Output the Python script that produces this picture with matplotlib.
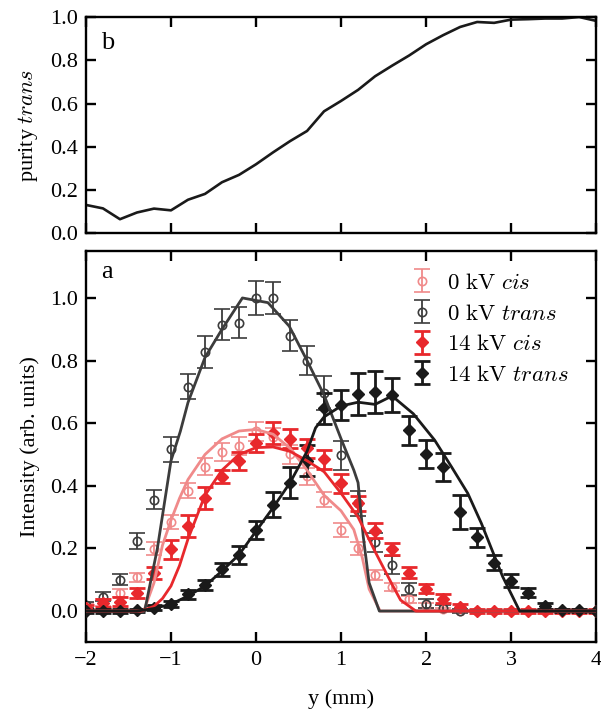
import numpy as np
import matplotlib
matplotlib.use("Agg")
import matplotlib.pyplot as plt

plt.rcParams["font.family"] = ["Liberation Serif", "DejaVu Serif"]
plt.rcParams["mathtext.fontset"] = "cm"

# ---- panel b: purity of trans ----
purity_y = [-2.0, -1.8, -1.6, -1.4, -1.2, -1.0, -0.8, -0.6, -0.4, -0.2,
            0.0, 0.2, 0.4, 0.6, 0.8, 1.0, 1.2, 1.4, 1.6, 1.8,
            2.0, 2.2, 2.4, 2.6, 2.8, 3.0, 3.2, 3.4, 3.6, 3.8, 4.0]
purity_trans = [0.131, 0.115, 0.065, 0.096, 0.114, 0.106, 0.155, 0.182, 0.236, 0.270,
                0.319, 0.374, 0.426, 0.473, 0.564, 0.612, 0.663, 0.726, 0.775, 0.822,
                0.874, 0.916, 0.954, 0.977, 0.973, 0.988, 0.990, 0.993, 0.993, 1.000, 0.982]

# ---- panel a: measured profiles ----
y_cis0 = [-2.0, -1.8, -1.6, -1.4, -1.2, -1.0, -0.8, -0.6, -0.4, -0.2,
          0.0, 0.2, 0.4, 0.6, 0.8, 1.0, 1.2, 1.4, 1.6, 1.8,
          2.0, 2.2, 2.4, 2.6]
cis0 = [0.015, 0.027, 0.058, 0.108, 0.199, 0.284, 0.385, 0.461, 0.508, 0.527,
        0.574, 0.555, 0.500, 0.430, 0.356, 0.259, 0.200, 0.115, 0.078, 0.037,
        0.019, 0.005, 0.000, 0.000]
cis0_err = [0.010, 0.010, 0.012, 0.015, 0.020, 0.022, 0.025, 0.028, 0.030, 0.030,
            0.030, 0.030, 0.030, 0.028, 0.025, 0.022, 0.020, 0.015, 0.013, 0.010,
            0.008, 0.005, 0.003, 0.003]

y_trans0 = [-2.0, -1.8, -1.6, -1.4, -1.2, -1.0, -0.8, -0.6, -0.4, -0.2,
            0.0, 0.2, 0.4, 0.6, 0.8, 1.0, 1.2, 1.4, 1.6, 1.8,
            2.0, 2.2, 2.4]
trans0 = [0.020, 0.046, 0.100, 0.223, 0.356, 0.517, 0.717, 0.827, 0.915, 0.921,
          1.000, 1.000, 0.880, 0.800, 0.696, 0.497, 0.344, 0.220, 0.147, 0.070,
          0.024, 0.009, 0.000]
trans0_err = [0.010, 0.015, 0.017, 0.025, 0.030, 0.040, 0.040, 0.050, 0.050, 0.050,
              0.055, 0.050, 0.050, 0.045, 0.055, 0.045, 0.040, 0.030, 0.028, 0.020,
              0.013, 0.010, 0.005]

y_kv14 = [-2.0, -1.8, -1.6, -1.4, -1.2, -1.0, -0.8, -0.6, -0.4, -0.2,
          0.0, 0.2, 0.4, 0.6, 0.8, 1.0, 1.2, 1.4, 1.6, 1.8,
          2.0, 2.2, 2.4, 2.6, 2.8, 3.0, 3.2, 3.4, 3.6, 3.8, 4.0]
cis14 = [0.010, 0.025, 0.030, 0.058, 0.122, 0.197, 0.273, 0.362, 0.429, 0.479,
         0.537, 0.568, 0.550, 0.520, 0.485, 0.408, 0.344, 0.257, 0.198, 0.122,
         0.072, 0.040, 0.014, 0.000, 0.000, 0.000, 0.000, 0.000, 0.000, 0.000, 0.000]
cis14_err = [0.010, 0.012, 0.015, 0.015, 0.020, 0.030, 0.035, 0.035, 0.020, 0.030,
             0.030, 0.035, 0.030, 0.030, 0.030, 0.030, 0.025, 0.025, 0.020, 0.018,
             0.015, 0.015, 0.010, 0.005, 0.005, 0.005, 0.005, 0.005, 0.005, 0.005, 0.005]
trans14 = [0.000, 0.000, 0.000, 0.003, 0.010, 0.023, 0.053, 0.083, 0.133, 0.179,
           0.259, 0.340, 0.410, 0.480, 0.647, 0.658, 0.693, 0.700, 0.690, 0.577,
           0.502, 0.459, 0.317, 0.235, 0.155, 0.097, 0.059, 0.017, 0.003, 0.003, 0.000]
trans14_err = [0.005, 0.005, 0.005, 0.005, 0.008, 0.010, 0.015, 0.015, 0.020, 0.030,
               0.030, 0.040, 0.050, 0.050, 0.050, 0.047, 0.066, 0.066, 0.055, 0.047,
               0.045, 0.045, 0.055, 0.030, 0.025, 0.020, 0.015, 0.010, 0.005, 0.005, 0.003]

# ---- panel a: simulated curves ----
sim_trans0_y = [-2.0, -1.31, -1.16, -1.0, -0.89, -0.8, -0.6, -0.4, -0.16, 0.14,
                0.39, 0.6, 0.8, 1.0, 1.15, 1.2, 1.26, 1.33, 1.45, 4.0]
sim_trans0 = [0.0, 0.0, 0.20, 0.48, 0.574, 0.666, 0.81, 0.90, 1.0, 0.985,
              0.91, 0.80, 0.69, 0.55, 0.45, 0.41, 0.24, 0.09, 0.0, 0.0]

sim_cis0_y = [-2.0, -1.32, -1.2, -1.1, -1.0, -0.9, -0.8, -0.6, -0.4, -0.2,
              0.0, 0.2, 0.4, 0.6, 0.8, 1.0, 1.15, 1.25, 1.33, 1.46, 4.0]
sim_cis0 = [0.0, 0.0, 0.09, 0.21, 0.29, 0.36, 0.42, 0.50, 0.55, 0.575,
            0.58, 0.565, 0.52, 0.45, 0.37, 0.32, 0.26, 0.17, 0.07, 0.0, 0.0]

sim_cis14_y = [-2.0, -1.35, -1.2, -1.1, -1.0, -0.9, -0.8, -0.6, -0.4, -0.2,
               0.0, 0.2, 0.4, 0.6, 0.8, 1.0, 1.2, 1.4, 1.6, 1.7, 1.88, 4.0]
sim_cis14 = [0.0, 0.0, 0.015, 0.04, 0.08, 0.145, 0.23, 0.37, 0.45, 0.50,
             0.522, 0.524, 0.51, 0.48, 0.445, 0.376, 0.30, 0.19, 0.085, 0.035, 0.0, 0.0]

sim_trans14_y = [-2.0, -1.4, -1.2, -1.0, -0.8, -0.6, -0.4, -0.2, 0.0, 0.2,
                 0.4, 0.6, 0.7, 0.8, 1.0, 1.2, 1.4, 1.6, 1.85, 2.1,
                 2.3, 2.49, 2.65, 2.9, 3.1, 4.0]
sim_trans14 = [0.0, 0.0, 0.008, 0.022, 0.048, 0.08, 0.128, 0.18, 0.255, 0.33,
               0.41, 0.51, 0.585, 0.62, 0.655, 0.667, 0.66, 0.687, 0.63, 0.546,
               0.46, 0.376, 0.28, 0.11, 0.0, 0.0]

c_pink = "#f08a8a"
c_gray = "#3c3c3c"
c_red = "#e8282c"
c_black = "#1a1a1a"

fig = plt.figure(figsize=(6.01, 7.09), dpi=100)
ax_b = fig.add_axes([0.143, 0.671, 0.849, 0.305])
ax_a = fig.add_axes([0.143, 0.094, 0.849, 0.552])

for ax in (ax_a, ax_b):
    for sp in ax.spines.values():
        sp.set_linewidth(1.7)
    ax.tick_params(direction="in", top=True, right=True, length=7.5, width=1.7,
                   labelsize=16, pad=6)
    ax.set_xlim(-2, 4)
    ax.set_xticks([-2, -1, 0, 1, 2, 3, 4])

# top panel
ax_b.plot(purity_y, purity_trans, color=c_black, lw=1.9)
ax_b.set_ylim(0, 1.0)
ax_b.set_yticks([0.0, 0.2, 0.4, 0.6, 0.8, 1.0])
ax_b.set_yticklabels(["0.0", "0.2", "0.4", "0.6", "0.8", "1.0"])
ax_b.tick_params(labelbottom=False)
ax_b.set_ylabel(r"purity $\mathit{trans}$", fontsize=16, labelpad=7)
ax_b.text(0.03, 0.93, "b", transform=ax_b.transAxes, fontsize=19, va="top")

# bottom panel
ax_a.errorbar(y_cis0, cis0, yerr=cis0_err, fmt="o", ms=6, mfc="none", mec=c_pink,
              mew=1.2, ecolor=c_pink, elinewidth=1.3, capsize=5.5, capthick=1.3,
              color=c_pink, label=r"$\mathrm{0\ kV}\ \mathit{cis}$", zorder=2)
ax_a.errorbar(y_trans0, trans0, yerr=trans0_err, fmt="o", ms=6, mfc="none", mec=c_gray,
              mew=1.2, ecolor=c_gray, elinewidth=1.3, capsize=5.5, capthick=1.3,
              color=c_gray, label=r"$\mathrm{0\ kV}\ \mathit{trans}$", zorder=2)
ax_a.errorbar(y_kv14, cis14, yerr=cis14_err, fmt="D", ms=6.5, mfc=c_red, mec=c_red,
              ecolor=c_red, elinewidth=2.0, capsize=5.5, capthick=2.0,
              color=c_red, label=r"$\mathrm{14\ kV}\ \mathit{cis}$", zorder=3)
ax_a.errorbar(y_kv14, trans14, yerr=trans14_err, fmt="D", ms=6.5, mfc=c_black, mec=c_black,
              ecolor=c_black, elinewidth=2.0, capsize=5.5, capthick=2.0,
              color=c_black, label=r"$\mathrm{14\ kV}\ \mathit{trans}$", zorder=3)

ax_a.plot(sim_cis0_y, sim_cis0, color=c_pink, lw=2.0, zorder=4)
ax_a.plot(sim_trans0_y, sim_trans0, color=c_gray, lw=2.0, zorder=4)
ax_a.plot(sim_cis14_y, sim_cis14, color=c_red, lw=2.0, zorder=4)
ax_a.plot(sim_trans14_y, sim_trans14, color=c_black, lw=2.0, zorder=4)

ax_a.set_ylim(-0.1, 1.15)
ax_a.set_yticks([0.0, 0.2, 0.4, 0.6, 0.8, 1.0])
ax_a.set_yticklabels(["0.0", "0.2", "0.4", "0.6", "0.8", "1.0"])
ax_a.set_xticklabels(["\u22122", "\u22121", "0", "1", "2", "3", "4"])
ax_a.set_xlabel("y (mm)", fontsize=16, labelpad=14)
ax_a.set_ylabel("Intensity (arb. units)", fontsize=16, labelpad=7)
ax_a.text(0.03, 0.975, "a", transform=ax_a.transAxes, fontsize=19, va="top")

ax_a.legend(loc="upper left", bbox_to_anchor=(0.6, 0.985), frameon=False,
            fontsize=16.5, handlelength=1.2, handletextpad=0.5, labelspacing=0.42,
            borderaxespad=0.3)

fig.savefig("out.png", dpi=100)
